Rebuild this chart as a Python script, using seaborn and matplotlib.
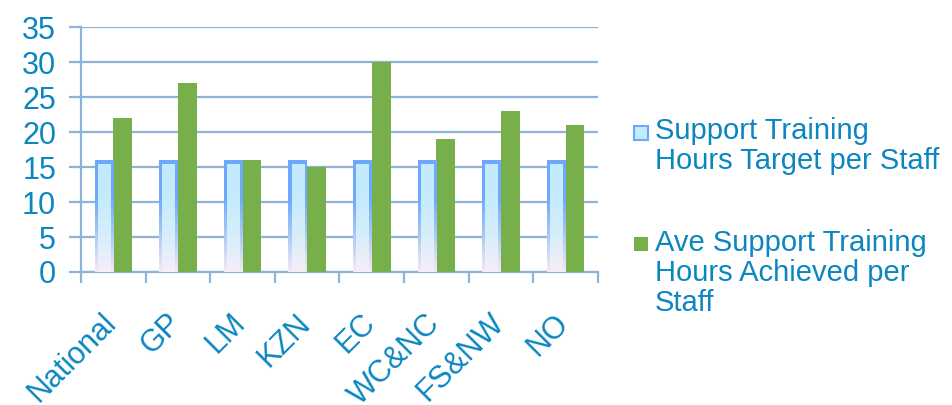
import numpy as np
import pandas as pd
import matplotlib
matplotlib.use("Agg")
import matplotlib.pyplot as plt
from matplotlib.patches import Rectangle
from matplotlib.colors import LinearSegmentedColormap
from matplotlib.transforms import ScaledTranslation
import seaborn as sns

# Regions and training hours
regions = ["National", "GP", "LM", "KZN", "EC", "WC&NC", "FS&NW", "NO"]
target_hours = [16, 16, 16, 16, 16, 16, 16, 16]
achieved_hours = [22, 27, 16, 15, 30, 19, 23, 21]
series_names = ["Support Training\nHours Target per Staff",
                "Ave Support Training\nHours Achieved per\nStaff"]
y_ticks = [0, 5, 10, 15, 20, 25, 30, 35]

TEXT = "#0B86C1"
GRID = "#8DB3D9"
GREEN = "#77B04A"
BLUE_FILL = "#C4EBFD"
BLUE_EDGE = "#6EA8FC"

df = pd.DataFrame({
    "region": regions * 2,
    "hours": target_hours + achieved_hours,
    "series": [series_names[0]] * len(regions) + [series_names[1]] * len(regions),
})

sns.set_theme(style="white")
plt.rcParams["font.family"] = ["Liberation Sans", "DejaVu Sans"]

fig = plt.figure(figsize=(9.52, 4.05), dpi=100)
ax = fig.add_axes([0.0851, 0.3284, 0.5430, 0.6049])

sns.barplot(data=df, x="region", y="hours", hue="series", order=regions,
            hue_order=series_names, palette=[BLUE_FILL, GREEN],
            width=0.58, gap=0.0, saturation=1, legend=False, ax=ax,
            edgecolor="none", linewidth=0, zorder=3)

ax.set_xlim(-0.5, len(regions) - 0.5)
ax.set_ylim(0, 35)
ax.set_yticks(y_ticks)
ax.set_xlabel("")
ax.set_ylabel("")

# Gradient styling for the target bars: blue rim fading towards the base
edge_cmap = LinearSegmentedColormap.from_list("rim", ["#F6E9F6", "#A9C9F4", BLUE_EDGE, BLUE_EDGE])
fill_cmap = LinearSegmentedColormap.from_list("fill", ["#F7EEF8", "#D6EEFB", BLUE_FILL, BLUE_FILL])
grad = np.linspace(0, 1, 256).reshape(-1, 1)
n = len(regions)
blue_bars = ax.patches[:n]
fig.canvas.draw()
px_x = np.diff(ax.transData.inverted().transform([[0, 0], [1.6, 0]])[:, 0])[0]
px_y = np.diff(ax.transData.inverted().transform([[0, 0], [0, 1.6]])[:, 1])[0]
for bar in blue_bars:
    x0, w, h = bar.get_x(), bar.get_width(), bar.get_height()
    bar.set_alpha(0)
    outer = Rectangle((x0, 0), w, h, transform=ax.transData, facecolor="none", edgecolor="none")
    ax.add_patch(outer)
    im = ax.imshow(grad, cmap=edge_cmap, origin="lower", aspect="auto",
                   extent=(x0, x0 + w, 0, h), zorder=3, interpolation="bilinear")
    im.set_clip_path(outer)
    inner = Rectangle((x0 + 2 * px_x, 0), w - 4 * px_x, h - 2.5 * px_y,
                      transform=ax.transData, facecolor="none", edgecolor="none")
    ax.add_patch(inner)
    im2 = ax.imshow(grad, cmap=fill_cmap, origin="lower", aspect="auto",
                    extent=(x0, x0 + w, 0, h), zorder=3.1, interpolation="bilinear")
    im2.set_clip_path(inner)
ax.set_xlim(-0.5, len(regions) - 0.5)
ax.set_ylim(0, 35)

# Grid, spines and ticks
ax.yaxis.grid(True, color=GRID, linewidth=1.6, zorder=0)
ax.set_axisbelow(True)
for side in ["top", "right"]:
    ax.spines[side].set_visible(False)
for side in ["left", "bottom"]:
    ax.spines[side].set_color(GRID)
    ax.spines[side].set_linewidth(1.6)
ax.tick_params(axis="y", which="major", left=True, length=9, width=1.6,
               color=GRID, labelsize=22, labelcolor=TEXT, pad=9)
ax.set_xticks(np.arange(-0.5, len(regions)), minor=True)
ax.tick_params(axis="x", which="minor", bottom=True, length=8, width=1.6, color=GRID)
ax.tick_params(axis="x", which="major", bottom=False, labelsize=22, labelcolor=TEXT, pad=20)
shift = ScaledTranslation(-12 / 100, 0, fig.dpi_scale_trans)
for lbl in ax.get_xticklabels():
    lbl.set_rotation(45)
    lbl.set_ha("right")
    lbl.set_va("top")
    lbl.set_rotation_mode("anchor")
    lbl.set_transform(lbl.get_transform() + shift)

# Legend drawn at the right
fig.add_artist(Rectangle((634 / 952, 1 - 140 / 405), 14 / 952, 14 / 405,
                         transform=fig.transFigure, facecolor=BLUE_FILL,
                         edgecolor=BLUE_EDGE, linewidth=1.5))
fig.text(655 / 952, 1 - 117 / 405, series_names[0], color=TEXT, fontsize=21,
         va="top", ha="left", linespacing=1.1)
fig.add_artist(Rectangle((634 / 952, 1 - 251 / 405), 14 / 952, 14 / 405,
                         transform=fig.transFigure, facecolor=GREEN,
                         edgecolor="none"))
fig.text(655 / 952, 1 - 229 / 405, series_names[1], color=TEXT, fontsize=21,
         va="top", ha="left", linespacing=1.1)

fig.savefig("out.png", dpi=100)
